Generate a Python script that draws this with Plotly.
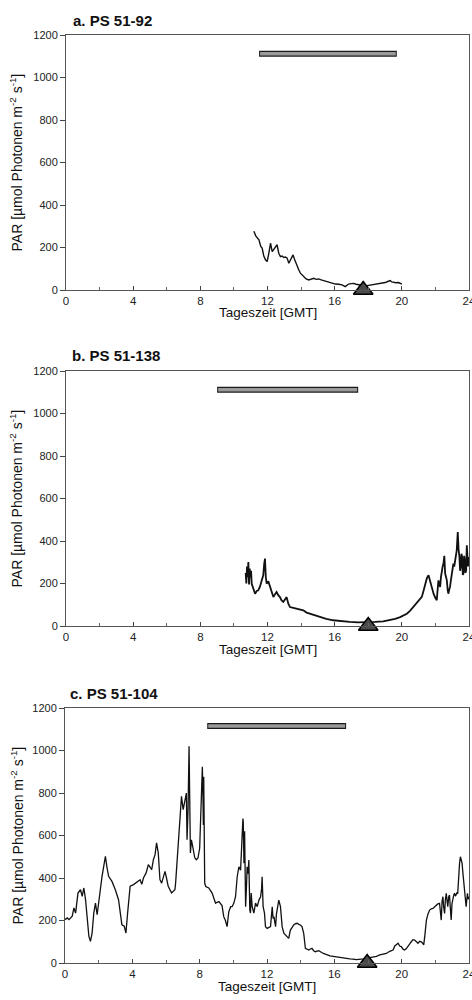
import plotly.graph_objects as go

# ---------------- data ----------------
x_ticks = [0, 4, 8, 12, 16, 20, 24]
y_ticks = [0, 200, 400, 600, 800, 1000, 1200]
panel_titles = ["a. PS 51-92", "b. PS 51-138", "c. PS 51-104"]

# bar (time span) and triangle marker positions per panel
bar_start = [11.5, 9.0, 8.45]
bar_end = [19.7, 17.4, 16.7]
bar_level = [1112, 1112, 1115]
tri_time = [17.7, 18.0, 17.95]

a_time = [11.19, 11.3, 11.49, 11.6, 11.68, 11.78, 11.88, 11.98, 12.08, 12.18,
          12.28, 12.36, 12.44, 12.57, 12.67, 12.77, 12.87, 12.97, 13.07, 13.17,
          13.27, 13.35, 13.43, 13.52, 13.62, 13.76, 13.86, 13.96, 14.06, 14.16,
          14.3, 14.46, 14.6, 14.75, 14.9, 15.05, 15.2, 15.35, 15.5, 15.64,
          15.84, 16.04, 16.24, 16.44, 16.63, 16.83, 16.98, 17.13, 17.28, 17.43,
          17.62, 17.82, 18.02, 18.22, 18.42, 18.61, 18.81, 19.01, 19.16, 19.31,
          19.4, 19.5, 19.65, 19.8, 20.0]
a_par = [276, 255, 236, 205, 197, 160, 142, 134, 173, 220,
         181, 190, 197, 213, 173, 157, 160, 153, 155, 150,
         126, 140, 150, 165, 142, 110, 95, 79, 70, 63,
         52, 47, 52, 55, 50, 52, 48, 44, 42, 39,
         33, 28, 27, 24, 16, 28, 30, 31, 27, 24,
         20, 19, 22, 24, 26, 28, 31, 35, 40, 44,
         38, 35, 34, 35, 28]

b_time = [10.70, 10.74, 10.78, 10.82, 10.86, 10.90, 10.94, 10.98, 11.02, 11.06,
          11.16, 11.26, 11.36, 11.45, 11.55, 11.65, 11.75, 11.80, 11.85, 11.90,
          11.95, 12.05, 12.15, 12.25, 12.35, 12.45, 12.54, 12.64, 12.74, 12.84,
          12.94, 13.04, 13.14, 13.24, 13.34, 13.54, 13.73, 13.93, 14.13, 14.33,
          14.53, 14.83, 15.12, 15.5, 15.91, 16.4, 16.90, 17.4, 17.90, 18.4,
          18.89, 19.30, 19.60, 19.90, 20.10, 20.30, 20.50, 20.69, 20.85, 20.99,
          21.09, 21.19, 21.29, 21.39, 21.49, 21.59, 21.66, 21.73, 21.81, 21.89,
          21.98, 22.08, 22.13, 22.18, 22.23, 22.28, 22.33, 22.38, 22.43, 22.48,
          22.53, 22.58, 22.63, 22.68, 22.73, 22.77, 22.82, 22.87, 22.92, 22.97,
          23.02, 23.07, 23.12, 23.17, 23.22, 23.27, 23.30, 23.33, 23.38, 23.43,
          23.47, 23.51, 23.55, 23.59, 23.63, 23.67, 23.71, 23.75, 23.79, 23.83,
          23.87, 23.91, 23.94, 23.97, 24.0]
b_par = [250, 200, 280, 230, 301, 195, 270, 230, 260, 199,
         175, 152, 165, 168, 185, 215, 240, 290, 317, 230,
         199, 210, 184, 150, 136, 150, 160, 145, 136, 120,
         113, 125, 136, 105, 89, 85, 82, 76, 74, 63,
         58, 50, 42, 34, 27, 22, 19, 17, 17, 19,
         22, 27, 34, 42, 50, 58, 72, 89, 105, 121,
         130, 137, 165, 192, 225, 239, 215, 200, 175, 152,
         135, 121, 170, 215, 195, 184, 230, 262, 280, 294,
         330, 247, 230, 215, 170, 152, 170, 184, 215, 247,
         270, 294, 280, 309, 330, 356, 400, 442, 360, 325,
         260, 278, 340, 325, 240, 247, 330, 309, 250, 262,
         380, 340, 280, 309, 325]

c_time = [0.0, 0.14, 0.24, 0.33, 0.43, 0.53, 0.63, 0.77, 0.92, 1.02, 1.12, 1.22, 1.32, 1.42, 1.51, 1.61,
          1.71, 1.81, 1.91, 2.00, 2.10, 2.20, 2.30, 2.40, 2.50, 2.59, 2.79, 2.99, 3.18, 3.28, 3.38, 3.52,
          3.62, 3.72, 3.87, 4.07, 4.17, 4.27, 4.46, 4.56, 4.66, 4.82, 4.95, 5.15, 5.25, 5.35, 5.44, 5.54,
          5.64, 5.74, 5.84, 5.94, 6.03, 6.13, 6.33, 6.53, 6.57, 6.67, 6.72, 6.82, 6.92, 7.02, 7.12, 7.21,
          7.25, 7.31, 7.37, 7.41, 7.45, 7.51, 7.61, 7.71, 7.80, 7.90, 8.00, 8.06, 8.12, 8.16, 8.20, 8.22,
          8.24, 8.27, 8.30, 8.36, 8.54, 8.74, 8.94, 9.14, 9.33, 9.43, 9.53, 9.63, 9.73, 9.84, 9.93, 10.03,
          10.13, 10.23, 10.33, 10.43, 10.48, 10.53, 10.57, 10.59, 10.63, 10.67, 10.70, 10.73, 10.78, 10.82,
          10.88, 10.92, 10.98, 11.02, 11.06, 11.12, 11.22, 11.32, 11.42, 11.52, 11.62, 11.68, 11.71, 11.77,
          11.85, 11.91, 12.01, 12.11, 12.21, 12.31, 12.36, 12.41, 12.46, 12.51, 12.56, 12.60, 12.70, 12.80,
          12.90, 13.00, 13.10, 13.20, 13.29, 13.39, 13.49, 13.59, 13.69, 13.79, 13.89, 13.98, 14.08, 14.18,
          14.28, 14.38, 14.48, 14.58, 14.67, 14.77, 14.87, 15.07, 15.35, 15.74, 16.00, 16.33, 16.62, 16.92,
          17.10, 17.32, 17.71, 18.11, 18.50, 18.70, 18.90, 19.09, 19.29, 19.49, 19.59, 19.69, 19.79, 19.88,
          19.98, 20.08, 20.18, 20.28, 20.38, 20.48, 20.57, 20.67, 20.77, 20.87, 20.97, 21.07, 21.17, 21.26,
          21.31, 21.37, 21.47, 21.56, 21.66, 21.76, 21.86, 21.96, 22.06, 22.15, 22.25, 22.30, 22.35, 22.40,
          22.45, 22.50, 22.55, 22.60, 22.65, 22.70, 22.74, 22.79, 22.84, 22.89, 22.94, 22.99, 23.04, 23.09,
          23.14, 23.19, 23.23, 23.28, 23.33, 23.39, 23.44, 23.49, 23.54, 23.59, 23.63, 23.67, 23.71, 23.75,
          23.79, 23.83, 23.87, 23.91, 23.95, 24.00]
c_par = [204, 212, 204, 212, 220, 259, 235, 329, 345, 314, 353, 298, 188, 125, 102, 141,
         235, 282, 227, 290, 345, 408, 455, 502, 447, 408, 384, 345, 298, 235, 180, 173,
         141, 235, 361, 369, 375, 384, 392, 370, 400, 424, 463, 439, 486, 510, 565, 518,
         392, 376, 408, 431, 400, 361, 330, 345, 376, 485, 549, 675, 784, 722, 769, 800,
         580, 722, 1020, 769, 518, 580, 530, 495, 486, 494, 540, 737, 800, 924, 760, 650,
         877, 500, 376, 360, 353, 329, 282, 289, 270, 218, 200, 171, 241, 265, 265, 282,
         312, 406, 453, 437, 560, 641, 680, 660, 470, 620, 400, 265, 360, 453,
         420, 485, 249, 235, 329, 265, 235, 282, 265, 296, 312, 350, 406, 265,
         235, 171, 163, 168, 171, 265, 210, 218, 200, 171, 230, 249, 296, 265,
         171, 140, 130, 124, 116, 155, 170, 179, 185, 187, 182, 179, 171, 140,
         69, 65, 61, 66, 69, 58, 53, 58, 45, 34, 30, 26, 22, 19,
         18, 16, 19, 24, 31, 38, 42, 45, 55, 61, 80, 88, 93, 80,
         77, 65, 61, 68, 77, 90, 100, 110, 108, 98, 93, 102, 100, 92,
         85, 124, 202, 230, 249, 255, 257, 265, 273, 278, 281, 250, 202, 290,
         312, 260, 233, 300, 328, 290, 265, 310, 320, 260, 202, 280, 312, 318,
         328, 315, 320, 330, 328, 422, 470, 500, 480, 469, 430, 390, 360, 344,
         300, 265, 300, 328, 300, 312]

series_time = [a_time, b_time, c_time]
series_par = [a_par, b_par, c_par]

# ---------------- layout helpers ----------------
W, H = 472, 1000
FONT = "Liberation Sans, Arial, Helvetica, sans-serif"
# plot area pixel boxes (left, right, top, bottom)
boxes = [(66, 469, 35, 290), (66, 469, 371, 626), (65, 469, 708, 963)]
title_pos = [(71, 20), (70, 355), (68, 693)]
line_widths = [1.4, 1.8, 1.3]

fig = go.Figure()
annotations = []
layout = {}

for i in range(3):
    n = i + 1
    xa = "x" if n == 1 else f"x{n}"
    ya = "y" if n == 1 else f"y{n}"
    l, r, t, b = boxes[i]
    # data line
    fig.add_trace(go.Scatter(x=series_time[i], y=series_par[i], mode="lines",
                             line=dict(color="#111111", width=line_widths[i]),
                             xaxis=xa, yaxis=ya, showlegend=False, hoverinfo="skip"))
    # time-span bar (dark outline + gray fill)
    fig.add_trace(go.Scatter(x=[bar_start[i], bar_end[i]], y=[bar_level[i], bar_level[i]],
                             mode="lines", line=dict(color="#1a1a1a", width=6),
                             xaxis=xa, yaxis=ya, showlegend=False, hoverinfo="skip"))
    fig.add_trace(go.Scatter(x=[bar_start[i] + 0.06, bar_end[i] - 0.06], y=[bar_level[i], bar_level[i]],
                             mode="lines", line=dict(color="#9a9a9a", width=3.5),
                             xaxis=xa, yaxis=ya, showlegend=False, hoverinfo="skip"))
    # triangle marker
    fig.add_trace(go.Scatter(x=[tri_time[i]], y=[0], mode="markers",
                             marker=dict(symbol="triangle-up", size=17, color="#4a4a4a",
                                         line=dict(color="#000000", width=1.5)),
                             cliponaxis=False, xaxis=xa, yaxis=ya,
                             showlegend=False, hoverinfo="skip"))

    xkey = "xaxis" if n == 1 else f"xaxis{n}"
    ykey = "yaxis" if n == 1 else f"yaxis{n}"
    layout[xkey] = dict(domain=[l / W, r / W], anchor=ya, range=[0, 24],
                        tickvals=x_ticks, ticktext=[str(v) for v in x_ticks],
                        ticks="inside", ticklen=4, tickcolor="#444",
                        minor=dict(dtick=2, tick0=0, ticks="inside", ticklen=3, tickcolor="#666"),
                        showline=True, mirror=True, linecolor="#555", linewidth=1,
                        showgrid=False, zeroline=False, ticklabeloverflow="allow",
                        automargin=False,
                        tickfont=dict(family=FONT, size=11.5, color="#222"),
                        fixedrange=True)
    layout[ykey] = dict(domain=[1 - b / H, 1 - t / H], anchor=xa, range=[0, 1200],
                        tickvals=y_ticks, ticktext=[str(v) for v in y_ticks],
                        ticks="outside", ticklen=5, tickcolor="#444",
                        showline=True, mirror=True, linecolor="#555", linewidth=1,
                        showgrid=False, zeroline=False, automargin=False,
                        tickfont=dict(family=FONT, size=11, color="#222"),
                        fixedrange=True)
    # panel title
    tx, ty = title_pos[i]
    annotations.append(dict(text=f"<b>{panel_titles[i]}</b>", x=tx / W, y=1 - ty / H,
                            xref="paper", yref="paper", xanchor="left", yanchor="middle",
                            showarrow=False, font=dict(family=FONT, size=15, color="#111")))
    # x axis title
    annotations.append(dict(text="Tageszeit [GMT]", x=((l + r) / 2) / W, y=1 - (b + 23) / H,
                            xref="paper", yref="paper", xanchor="center", yanchor="middle",
                            showarrow=False, font=dict(family=FONT, size=13.5, color="#111")))
    # y axis title
    annotations.append(dict(text="PAR [µmol Photonen m<sup>-2</sup> s<sup>-1</sup>]",
                            x=17 / W, y=1 - ((t + b) / 2) / H, textangle=-90,
                            xref="paper", yref="paper", xanchor="center", yanchor="middle",
                            showarrow=False, font=dict(family=FONT, size=14, color="#111")))

fig.update_layout(width=W, height=H, margin=dict(l=0, r=0, t=0, b=0, autoexpand=False),
                  paper_bgcolor="white", plot_bgcolor="white",
                  annotations=annotations, showlegend=False, **layout)

fig.write_html("out.html", include_plotlyjs=True, full_html=True,
               config={"displayModeBar": False},
               post_script="document.body.style.margin='0';document.body.style.overflow='hidden';")
